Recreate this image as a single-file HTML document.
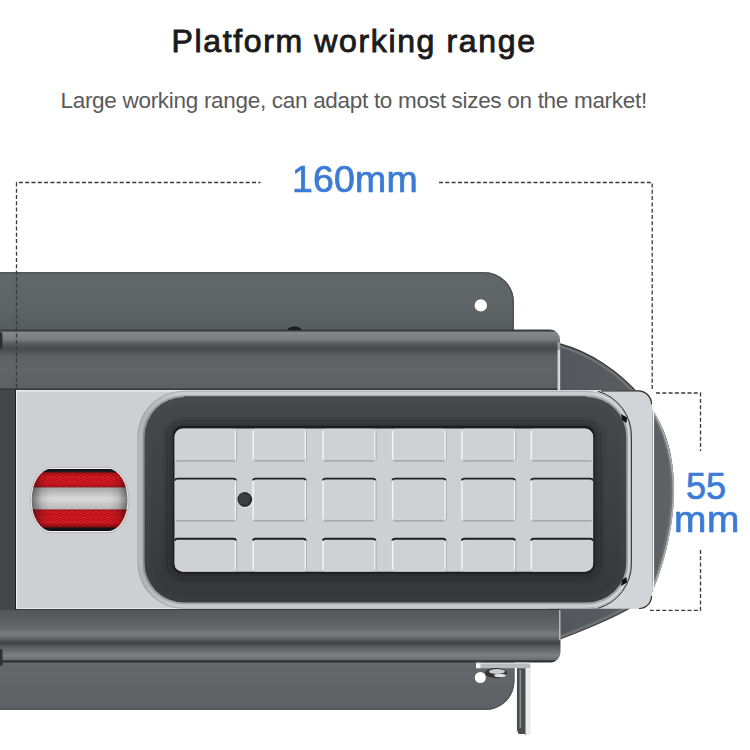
<!DOCTYPE html>
<html><head><meta charset="utf-8">
<style>
html,body{margin:0;padding:0;background:#fff;}
body{width:750px;height:750px;position:relative;overflow:hidden;font-family:"Liberation Sans",sans-serif;}
.t{position:absolute;white-space:nowrap;line-height:1;}
#title{left:171.5px;top:25px;font-size:32px;font-weight:normal;color:#1b1b1b;letter-spacing:1.64px;-webkit-text-stroke:0.9px #1b1b1b;}
#sub{left:60.5px;top:89.5px;font-size:22.5px;color:#5a5a5a;letter-spacing:-0.3px;}
.blue{color:#3b7bd6;font-size:36px;-webkit-text-stroke:0.7px #3b7bd6;transform-origin:0 0;}
#d160{left:292px;top:161.5px;letter-spacing:0.2px;transform:scaleX(1.04);}
#d55{left:686px;top:469px;}
#dmm{left:674px;top:501.5px;letter-spacing:0.5px;transform:scaleX(1.08);transform-origin:0 0;}
svg{position:absolute;left:0;top:0;}
</style></head><body>
<svg width="750" height="750" viewBox="0 0 750 750">
<defs>
 <linearGradient id="plateT" x1="0" y1="0" x2="0" y2="1">
  <stop offset="0" stop-color="#62676a"/>
  <stop offset="0.6" stop-color="#5e6366"/>
  <stop offset="1" stop-color="#575b5e"/>
 </linearGradient>
 <linearGradient id="plateB" x1="0" y1="0" x2="0" y2="1">
  <stop offset="0" stop-color="#64686b"/>
  <stop offset="1" stop-color="#5d6164"/>
 </linearGradient>
 <linearGradient id="railG" x1="0" y1="0" x2="0" y2="1">
  <stop offset="0" stop-color="#3a3d3f"/>
  <stop offset="0.025" stop-color="#3a3d3f"/>
  <stop offset="0.045" stop-color="#86898b"/>
  <stop offset="0.165" stop-color="#787b7d"/>
  <stop offset="0.23" stop-color="#5a5d5f"/>
  <stop offset="0.3" stop-color="#4a4d4f"/>
  <stop offset="0.36" stop-color="#4d5052"/>
  <stop offset="0.43" stop-color="#5d6163"/>
  <stop offset="0.66" stop-color="#616568"/>
  <stop offset="0.96" stop-color="#5c6062"/>
  <stop offset="0.985" stop-color="#35383a"/>
  <stop offset="1" stop-color="#35383a"/>
 </linearGradient>
 <linearGradient id="railB" x1="0" y1="0" x2="0" y2="1">
  <stop offset="0" stop-color="#2e3133"/>
  <stop offset="0.028" stop-color="#54575a"/>
  <stop offset="0.19" stop-color="#5b5f61"/>
  <stop offset="0.36" stop-color="#64686a"/>
  <stop offset="0.47" stop-color="#7a7e80"/>
  <stop offset="0.53" stop-color="#6a6e70"/>
  <stop offset="0.63" stop-color="#404345"/>
  <stop offset="0.72" stop-color="#5a5e60"/>
  <stop offset="0.87" stop-color="#7c8082"/>
  <stop offset="0.945" stop-color="#6a6e70"/>
  <stop offset="0.97" stop-color="#2e3133"/>
  <stop offset="1" stop-color="#2e3133"/>
 </linearGradient>
 <linearGradient id="frameG" x1="0" y1="0" x2="0" y2="1">
  <stop offset="0" stop-color="#464749"/>
  <stop offset="0.5" stop-color="#3f4042"/>
  <stop offset="1" stop-color="#363738"/>
 </linearGradient>
 <linearGradient id="bodyG" x1="0" y1="0" x2="1" y2="0">
  <stop offset="0" stop-color="#52565a"/>
  <stop offset="0.75" stop-color="#5a5e61"/>
  <stop offset="1" stop-color="#5f6366"/>
 </linearGradient>
 <linearGradient id="red" x1="0" y1="0" x2="0" y2="1">
  <stop offset="0" stop-color="#0e0e0e"/>
  <stop offset="0.04" stop-color="#1a1a1a"/>
  <stop offset="0.075" stop-color="#c01018"/>
  <stop offset="0.13" stop-color="#f01c24"/>
  <stop offset="0.26" stop-color="#e2161e"/>
  <stop offset="0.29" stop-color="#8a1a1e"/>
  <stop offset="0.305" stop-color="#a8a8a8"/>
  <stop offset="0.48" stop-color="#dadada"/>
  <stop offset="0.645" stop-color="#b8b8b8"/>
  <stop offset="0.66" stop-color="#9a1418"/>
  <stop offset="0.68" stop-color="#e2161e"/>
  <stop offset="0.86" stop-color="#ee1a22"/>
  <stop offset="0.92" stop-color="#a00e14"/>
  <stop offset="0.955" stop-color="#141414"/>
  <stop offset="1" stop-color="#0e0e0e"/>
 </linearGradient>
 <linearGradient id="redSide" x1="0" y1="0" x2="1" y2="0">
  <stop offset="0" stop-color="#000" stop-opacity="0.55"/>
  <stop offset="0.12" stop-color="#000" stop-opacity="0.1"/>
  <stop offset="0.2" stop-color="#000" stop-opacity="0"/>
  <stop offset="0.8" stop-color="#000" stop-opacity="0"/>
  <stop offset="0.88" stop-color="#000" stop-opacity="0.1"/>
  <stop offset="1" stop-color="#000" stop-opacity="0.55"/>
 </linearGradient>
 <linearGradient id="brk" x1="0" y1="0" x2="1" y2="0">
  <stop offset="0" stop-color="#7e8284"/>
  <stop offset="0.3" stop-color="#e6e8e9"/>
  <stop offset="0.55" stop-color="#9a9ea0"/>
  <stop offset="0.8" stop-color="#f2f3f4"/>
  <stop offset="1" stop-color="#b9bcbe"/>
 </linearGradient>
 <clipPath id="bodyClip"><path d="M548 341 L560 344 C590 352 620 372 640 396 C664 418 674 452 674 490 C674 525 664 565 653 590 C645 603 605 622 560 639 L548 641 Z"/></clipPath>
 <pattern id="weave" width="6" height="5" patternUnits="userSpaceOnUse">
  <path d="M0 0 L3 2.5 L6 0 M0 2.5 L3 5 L6 2.5" fill="none" stroke="#8c0a10" stroke-width="1.1" opacity="0.7"/>
  <path d="M0 1.2 L3 3.7 L6 1.2" fill="none" stroke="#ff4a50" stroke-width="0.6" opacity="0.45"/>
 </pattern>
 <clipPath id="slotClip"><rect x="31.7" y="468.8" width="95.8" height="62.4" rx="19.6" ry="31.2"/></clipPath>
 <linearGradient id="ringG" gradientUnits="userSpaceOnUse" x1="137" y1="0" x2="178" y2="0">
  <stop offset="0" stop-color="#bcbfc1"/>
  <stop offset="0.15" stop-color="#b0b4b6"/>
  <stop offset="1" stop-color="#c9ccce"/>
 </linearGradient>
 <clipPath id="padClip"><rect x="174.5" y="428.5" width="418.7" height="143.2" rx="8.5"/></clipPath>
 <clipPath id="frameClip"><rect x="144.5" y="397" width="481.8" height="205.5" rx="39.5"/></clipPath>
 <filter id="blur3" x="-10%" y="-20%" width="120%" height="140%"><feGaussianBlur stdDeviation="3"/></filter>
</defs>

<!-- right dark body -->
<path id="bodyP" d="M548 341 L560 344 C590 352 620 372 640 396 C664 418 674 452 674 490 C674 525 664 565 653 590 C645 603 605 622 560 639 L548 641 Z" fill="url(#bodyG)"/>
<path d="M548 341 L560 344 C590 352 620 372 640 396 C664 418 674 452 674 490 C674 525 664 565 653 590 C645 603 605 622 560 639 L548 641 Z" fill="none" stroke="#6d7174" stroke-width="7" clip-path="url(#bodyClip)"/>
<path d="M548 341 L560 344 C590 352 620 372 640 396" fill="none" stroke="#34373a" stroke-width="1.4"/>
<path d="M653 590 C645 603 605 622 560 639 L548 641" fill="none" stroke="#404346" stroke-width="1.2"/>
<path d="M651 408 C664 428 673.4 458 673.4 490 C673.4 525 664 562 652 590" fill="none" stroke="#a9adaf" stroke-width="1.6"/>

<!-- top plate -->
<path d="M-5 272 H484 A30 30 0 0 1 514 302 V332 H-5 Z" fill="url(#plateT)"/>
<path d="M-5 272.8 H484 A29.2 29.2 0 0 1 513.2 302 V332" fill="none" stroke="#4d5153" stroke-width="1.3"/>
<circle cx="480.8" cy="305.4" r="6.2" fill="#fff"/>
<!-- bottom plate -->
<path d="M-5 660 H514.5 V681 A29 29 0 0 1 485.5 710 H-5 Z" fill="url(#plateB)"/>
<path d="M-5 709.2 H485.5 A28.2 28.2 0 0 0 513.7 681 V662" fill="none" stroke="#55595b" stroke-width="1.4"/>
<circle cx="480.3" cy="677.5" r="5.5" fill="#fff"/>

<!-- top rail -->
<path d="M-5 329.5 H550 A10 10 0 0 1 560 339.5 V390 H-5 Z" fill="url(#railG)"/>
<rect x="557.6" y="350" width="2.6" height="40" fill="#d6d9db"/>
<rect x="557.6" y="342" width="2.6" height="8" fill="#9a9ea0"/>
<rect x="-2" y="332" width="4.5" height="17" rx="2" fill="#2e3032"/>
<path d="M287 330 Q289 326.5 294.5 326.5 Q300 326.5 302 330 Z" fill="#1a1b1c"/>
<!-- bottom rail -->
<path d="M-5 609 H560.5 V652.5 A10 10 0 0 1 550.5 662.5 H-5 Z" fill="url(#railB)"/>
<rect x="559" y="610" width="1.5" height="30" fill="#c9cccf" opacity="0.8"/>
<rect x="-2" y="649" width="4.5" height="17" rx="2" fill="#2e3032"/>

<!-- left dark strip -->
<rect x="0" y="390" width="16" height="220" fill="#444546"/>
<rect x="15" y="390" width="1.2" height="220" fill="#1c1c1d"/>
<!-- silver plate -->
<path d="M16 390.3 H639 A13 13 0 0 1 652 403.3 V596 A12.5 12.5 0 0 1 639.5 608.5 H16 Z" fill="#cdd0d2"/>
<rect x="16" y="390.3" width="600" height="1.2" fill="#eef0f1"/>
<rect x="16" y="390.3" width="1.2" height="218" fill="#eef0f1"/>
<!-- frame ring -->
<rect x="137.4" y="390.8" width="494" height="218" rx="46" fill="url(#ringG)"/>
<rect x="137.9" y="391.3" width="493" height="217" rx="45.5" fill="none" stroke="#000" stroke-opacity="0.16" stroke-width="0.9"/>
<rect x="143.6" y="396.1" width="483.6" height="207.3" rx="40.4" fill="none" stroke="#000" stroke-opacity="0.2" stroke-width="1.8"/>
<!-- frame dark -->
<rect x="144.5" y="397" width="481.8" height="205.5" rx="39.5" fill="url(#frameG)"/>
<rect x="184" y="396.4" width="402" height="0.9" fill="#3a3b3d"/>
<!-- clip right -->
<path d="M598 391 H639 A13 13 0 0 1 652 404 V596 A12.5 12.5 0 0 1 639.5 608.5 H598 A46 46 0 0 0 631.4 562.8 V437 A46 46 0 0 0 598 391 Z" fill="#d2d5d7"/>
<path d="M598 391.3 A46 46 0 0 1 631.4 437 V562.8 A46 46 0 0 1 598 608.3" fill="none" stroke="#2e3032" stroke-width="1"/>
<path d="M594 393 A44 44 0 0 1 629.2 437 V562.8 A44 44 0 0 1 594 606.5" fill="none" stroke="#d8dbdc" stroke-width="1.2"/>
<path d="M601 390.8 H638 A13.5 13.5 0 0 1 651.5 404.3" fill="none" stroke="#2b2d2f" stroke-width="1.2"/>
<path d="M651.5 596 A12.5 12.5 0 0 1 639 608.5" fill="none" stroke="#2b2d2f" stroke-width="1.2"/>
<rect x="652.5" y="404" width="1.6" height="190" fill="#f4f5f6"/>
<!-- notches -->
<path d="M621 414 L627 417.5 L626.5 423 L622 420 Z" fill="#111"/>
<path d="M621 586 L627 582.5 L626.5 577 L622 580 Z" fill="#111"/>
<!-- pad -->
<g clip-path="url(#frameClip)">
<rect x="172.5" y="426.5" width="422.7" height="147.2" rx="10" fill="none" stroke="#141516" stroke-width="10" stroke-opacity="0.45" filter="url(#blur3)"/>
<rect x="146" y="398.5" width="479" height="202.5" rx="38" fill="none" stroke="#5a5b5c" stroke-width="6" stroke-opacity="0.18" filter="url(#blur3)"/>
</g>
<rect x="173.1" y="425.7" width="421.5" height="147.8" rx="9.5" fill="#1b1c1d"/>
<rect x="174.5" y="428.5" width="418.7" height="143.2" rx="8.5" fill="#cdd0d2"/>
<g clip-path="url(#padClip)">
<rect x="174.5" y="428.5" width="61.7" height="32.8" rx="3" fill="#cfd2d4"/>
<rect x="176.0" y="460.3" width="58.7" height="1.3" fill="#9da1a3"/>
<rect x="234.79999999999998" y="430.5" width="1.4" height="28.8" fill="#f4f5f6"/>
<rect x="236.2" y="430.5" width="0.9" height="29.8" fill="#a7abad"/>
<rect x="252.7" y="428.5" width="53.4" height="32.8" rx="3" fill="#cfd2d4"/>
<rect x="254.2" y="460.3" width="50.4" height="1.3" fill="#9da1a3"/>
<rect x="252.5" y="430.5" width="1.4" height="28.8" fill="#f4f5f6"/>
<rect x="304.70000000000005" y="430.5" width="1.4" height="28.8" fill="#f4f5f6"/>
<rect x="306.1" y="430.5" width="0.9" height="29.8" fill="#a7abad"/>
<rect x="322.6" y="428.5" width="53.0" height="32.8" rx="3" fill="#cfd2d4"/>
<rect x="324.1" y="460.3" width="50.0" height="1.3" fill="#9da1a3"/>
<rect x="322.40000000000003" y="430.5" width="1.4" height="28.8" fill="#f4f5f6"/>
<rect x="374.20000000000005" y="430.5" width="1.4" height="28.8" fill="#f4f5f6"/>
<rect x="375.6" y="430.5" width="0.9" height="29.8" fill="#a7abad"/>
<rect x="392.1" y="428.5" width="53.8" height="32.8" rx="3" fill="#cfd2d4"/>
<rect x="393.6" y="460.3" width="50.8" height="1.3" fill="#9da1a3"/>
<rect x="391.90000000000003" y="430.5" width="1.4" height="28.8" fill="#f4f5f6"/>
<rect x="444.5" y="430.5" width="1.4" height="28.8" fill="#f4f5f6"/>
<rect x="445.9" y="430.5" width="0.9" height="29.8" fill="#a7abad"/>
<rect x="461.5" y="428.5" width="53.8" height="32.8" rx="3" fill="#cfd2d4"/>
<rect x="463.0" y="460.3" width="50.8" height="1.3" fill="#9da1a3"/>
<rect x="461.3" y="430.5" width="1.4" height="28.8" fill="#f4f5f6"/>
<rect x="513.9" y="430.5" width="1.4" height="28.8" fill="#f4f5f6"/>
<rect x="515.3" y="430.5" width="0.9" height="29.8" fill="#a7abad"/>
<rect x="530.8" y="428.5" width="62.4" height="32.8" rx="3" fill="#cfd2d4"/>
<rect x="532.3" y="460.3" width="59.4" height="1.3" fill="#9da1a3"/>
<rect x="530.5999999999999" y="430.5" width="1.4" height="28.8" fill="#f4f5f6"/>
<rect x="174.5" y="478.4" width="61.7" height="42.8" rx="3" fill="#cfd2d4"/>
<path d="M174.8 480.6 Q175.0 478.6 177.5 478.6 H233.2 Q235.7 478.6 235.9 480.6" fill="none" stroke="#1e2022" stroke-width="1.9"/>
<rect x="176.0" y="520.2" width="58.7" height="1.3" fill="#9da1a3"/>
<rect x="234.79999999999998" y="480.4" width="1.4" height="38.8" fill="#f4f5f6"/>
<rect x="236.2" y="480.4" width="0.9" height="39.8" fill="#a7abad"/>
<rect x="252.7" y="478.4" width="53.4" height="42.8" rx="3" fill="#cfd2d4"/>
<path d="M253.0 480.6 Q253.2 478.6 255.7 478.6 H303.1 Q305.6 478.6 305.8 480.6" fill="none" stroke="#1e2022" stroke-width="1.9"/>
<rect x="254.2" y="520.2" width="50.4" height="1.3" fill="#9da1a3"/>
<rect x="252.5" y="480.4" width="1.4" height="38.8" fill="#f4f5f6"/>
<rect x="304.70000000000005" y="480.4" width="1.4" height="38.8" fill="#f4f5f6"/>
<rect x="306.1" y="480.4" width="0.9" height="39.8" fill="#a7abad"/>
<rect x="322.6" y="478.4" width="53.0" height="42.8" rx="3" fill="#cfd2d4"/>
<path d="M322.9 480.6 Q323.1 478.6 325.6 478.6 H372.6 Q375.1 478.6 375.3 480.6" fill="none" stroke="#1e2022" stroke-width="1.9"/>
<rect x="324.1" y="520.2" width="50.0" height="1.3" fill="#9da1a3"/>
<rect x="322.40000000000003" y="480.4" width="1.4" height="38.8" fill="#f4f5f6"/>
<rect x="374.20000000000005" y="480.4" width="1.4" height="38.8" fill="#f4f5f6"/>
<rect x="375.6" y="480.4" width="0.9" height="39.8" fill="#a7abad"/>
<rect x="392.1" y="478.4" width="53.8" height="42.8" rx="3" fill="#cfd2d4"/>
<path d="M392.4 480.6 Q392.6 478.6 395.1 478.6 H442.9 Q445.4 478.6 445.6 480.6" fill="none" stroke="#1e2022" stroke-width="1.9"/>
<rect x="393.6" y="520.2" width="50.8" height="1.3" fill="#9da1a3"/>
<rect x="391.90000000000003" y="480.4" width="1.4" height="38.8" fill="#f4f5f6"/>
<rect x="444.5" y="480.4" width="1.4" height="38.8" fill="#f4f5f6"/>
<rect x="445.9" y="480.4" width="0.9" height="39.8" fill="#a7abad"/>
<rect x="461.5" y="478.4" width="53.8" height="42.8" rx="3" fill="#cfd2d4"/>
<path d="M461.8 480.6 Q462.0 478.6 464.5 478.6 H512.3 Q514.8 478.6 515.0 480.6" fill="none" stroke="#1e2022" stroke-width="1.9"/>
<rect x="463.0" y="520.2" width="50.8" height="1.3" fill="#9da1a3"/>
<rect x="461.3" y="480.4" width="1.4" height="38.8" fill="#f4f5f6"/>
<rect x="513.9" y="480.4" width="1.4" height="38.8" fill="#f4f5f6"/>
<rect x="515.3" y="480.4" width="0.9" height="39.8" fill="#a7abad"/>
<rect x="530.8" y="478.4" width="62.4" height="42.8" rx="3" fill="#cfd2d4"/>
<path d="M531.1 480.6 Q531.3 478.6 533.8 478.6 H590.2 Q592.7 478.6 592.9 480.6" fill="none" stroke="#1e2022" stroke-width="1.9"/>
<rect x="532.3" y="520.2" width="59.4" height="1.3" fill="#9da1a3"/>
<rect x="530.5999999999999" y="480.4" width="1.4" height="38.8" fill="#f4f5f6"/>
<rect x="174.5" y="538.6" width="61.7" height="33.1" rx="3" fill="#cfd2d4"/>
<path d="M174.8 540.8 Q175.0 538.8 177.5 538.8 H233.2 Q235.7 538.8 235.9 540.8" fill="none" stroke="#1e2022" stroke-width="1.9"/>
<rect x="234.79999999999998" y="540.6" width="1.4" height="29.1" fill="#f4f5f6"/>
<rect x="236.2" y="540.6" width="0.9" height="30.1" fill="#a7abad"/>
<rect x="252.7" y="538.6" width="53.4" height="33.1" rx="3" fill="#cfd2d4"/>
<path d="M253.0 540.8 Q253.2 538.8 255.7 538.8 H303.1 Q305.6 538.8 305.8 540.8" fill="none" stroke="#1e2022" stroke-width="1.9"/>
<rect x="252.5" y="540.6" width="1.4" height="29.1" fill="#f4f5f6"/>
<rect x="304.70000000000005" y="540.6" width="1.4" height="29.1" fill="#f4f5f6"/>
<rect x="306.1" y="540.6" width="0.9" height="30.1" fill="#a7abad"/>
<rect x="322.6" y="538.6" width="53.0" height="33.1" rx="3" fill="#cfd2d4"/>
<path d="M322.9 540.8 Q323.1 538.8 325.6 538.8 H372.6 Q375.1 538.8 375.3 540.8" fill="none" stroke="#1e2022" stroke-width="1.9"/>
<rect x="322.40000000000003" y="540.6" width="1.4" height="29.1" fill="#f4f5f6"/>
<rect x="374.20000000000005" y="540.6" width="1.4" height="29.1" fill="#f4f5f6"/>
<rect x="375.6" y="540.6" width="0.9" height="30.1" fill="#a7abad"/>
<rect x="392.1" y="538.6" width="53.8" height="33.1" rx="3" fill="#cfd2d4"/>
<path d="M392.4 540.8 Q392.6 538.8 395.1 538.8 H442.9 Q445.4 538.8 445.6 540.8" fill="none" stroke="#1e2022" stroke-width="1.9"/>
<rect x="391.90000000000003" y="540.6" width="1.4" height="29.1" fill="#f4f5f6"/>
<rect x="444.5" y="540.6" width="1.4" height="29.1" fill="#f4f5f6"/>
<rect x="445.9" y="540.6" width="0.9" height="30.1" fill="#a7abad"/>
<rect x="461.5" y="538.6" width="53.8" height="33.1" rx="3" fill="#cfd2d4"/>
<path d="M461.8 540.8 Q462.0 538.8 464.5 538.8 H512.3 Q514.8 538.8 515.0 540.8" fill="none" stroke="#1e2022" stroke-width="1.9"/>
<rect x="461.3" y="540.6" width="1.4" height="29.1" fill="#f4f5f6"/>
<rect x="513.9" y="540.6" width="1.4" height="29.1" fill="#f4f5f6"/>
<rect x="515.3" y="540.6" width="0.9" height="30.1" fill="#a7abad"/>
<rect x="530.8" y="538.6" width="62.4" height="33.1" rx="3" fill="#cfd2d4"/>
<path d="M531.1 540.8 Q531.3 538.8 533.8 538.8 H590.2 Q592.7 538.8 592.9 540.8" fill="none" stroke="#1e2022" stroke-width="1.9"/>
<rect x="530.5999999999999" y="540.6" width="1.4" height="29.1" fill="#f4f5f6"/>
</g>

<!-- hole -->
<circle cx="245.3" cy="500" r="8.2" fill="#e6e8e9"/>
<circle cx="244.8" cy="499.5" r="7.4" fill="#2f3032"/>
<circle cx="244.3" cy="499" r="5.5" fill="#3d3e40"/>

<!-- red slot -->
<rect x="30.3" y="467.4" width="98.6" height="65.2" rx="21" ry="32.6" fill="#eff1f2" stroke="#9a9ea0" stroke-width="0.6"/>
<g clip-path="url(#slotClip)">
<rect x="30" y="469" width="100" height="62" fill="url(#red)"/>
<rect x="30" y="473.5" width="100" height="13.5" fill="url(#weave)"/>
<rect x="30" y="510.5" width="100" height="16" fill="url(#weave)"/>
<rect x="30" y="469" width="100" height="62" fill="url(#redSide)"/>
</g>

<!-- bracket -->
<path d="M476 662.8 H527 A3.5 3.5 0 0 1 530.5 666.3 V668.2 H476 Z" fill="#b9bbbd"/>
<rect x="476" y="662.8" width="4.5" height="5.4" fill="#f2f2f2"/>
<rect x="476" y="662.8" width="54" height="1" fill="#d9dbdc"/>
<rect x="516" y="668.2" width="1" height="66" fill="#f4f4f4"/>
<path d="M517 668.2 H525 V734 H518.5 L517 730 Z" fill="#4a4d50"/>
<rect x="519.5" y="670" width="1.6" height="58" fill="#8d9194"/>
<path d="M525 668.2 H530.5 V735 H525.5 Z" fill="#e9eaeb"/>
<rect x="525" y="668.2" width="1" height="67" fill="#9b9fa2"/>
<ellipse cx="496" cy="673" rx="11" ry="5" fill="#2f3133"/>
<ellipse cx="497" cy="671.5" rx="8" ry="2.5" fill="#c8cbcd"/>
<ellipse cx="500" cy="675.5" rx="6" ry="1.6" fill="#e2e4e5"/>

<!-- dashed lines -->
<g fill="none" stroke="#3a3a3a" stroke-width="1.3" stroke-dasharray="4 2.3">
 <path d="M16.5 388 V182.5 H260.5"/>
 <path d="M439 182.5 H652.2 V390"/>
 <path d="M656 393 H700.5 V451"/>
 <path d="M700.5 550 V610.3 H650"/>
</g>
</svg>
<div class="t" id="title">Platform working range</div>
<div class="t" id="sub">Large working range, can adapt to most sizes on the market!</div>
<div class="t blue" id="d160">160mm</div>
<div class="t blue" id="d55">55</div>
<div class="t blue" id="dmm">mm</div>
</body></html>
